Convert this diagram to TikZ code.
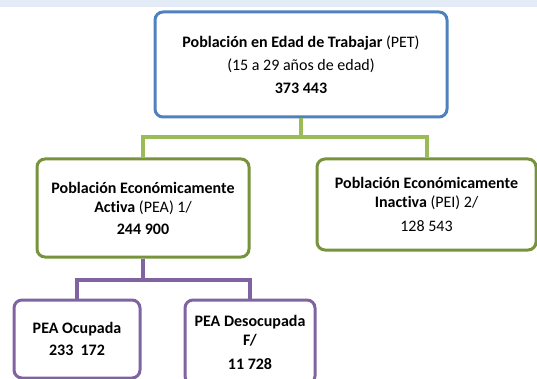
\documentclass[tikz,border=0pt]{standalone}
\usepackage{fontspec}
\setmainfont{Carlito}[RawFeature=-liga]
\definecolor{cblue}{RGB}{79,129,189}
\definecolor{cgreen}{RGB}{119,147,60}
\definecolor{clgreen}{RGB}{155,187,89}
\definecolor{cpurple}{RGB}{128,100,162}
\definecolor{cstrip}{RGB}{226,235,246}
\begin{document}
\begin{tikzpicture}[x=1pt,y=-1pt,
  box/.style={draw,rounded corners=8pt,line width=3pt,fill=white,align=center,inner sep=0pt,font=\fontsize{16}{19}\selectfont},
  bluebox/.style={box,draw=cblue},
  greenbox/.style={box,draw=cgreen},
  purplebox/.style={box,draw=cpurple},
  gline/.style={draw=clgreen,line width=4pt},
  pline/.style={draw=cpurple,line width=4pt}]
\useasboundingbox (0,0) rectangle (537,379);
\fill[cstrip] (0,0) rectangle (537,7);
\coordinate (gy) at (0,137);
\coordinate (py) at (0,280);
\node[bluebox,minimum width=292pt,minimum height=105pt] (pet) at (301,64.5)
  {\textbf{Población en Edad de Trabajar} (PET)\\[4pt](15 a 29 años de edad)\\[4pt]\textbf{373 443}};
\node[greenbox,minimum width=212pt,minimum height=98pt] (pea) at (143,208)
  {\textbf{Población Económicamente}\\\textbf{Activa} (PEA) 1/\\[3pt]\textbf{244 900}};
\node[greenbox,minimum width=219pt,minimum height=91pt] (pei) at (426.5,204.5)
  {\textbf{Población Económicamente}\\\textbf{Inactiva} (PEI) 2/\\[5pt]128 543};
\node[purplebox,minimum width=126pt,minimum height=78pt] (ocu) at (77,339)
  {\textbf{PEA Ocupada}\\[3pt]\textbf{233~~172}};
\node[purplebox,minimum width=130pt,minimum height=84pt] (des) at (250,342)
  {\textbf{PEA Desocupada}\\\textbf{F/}\\[5pt]\textbf{11 728}};
\draw[gline] (pet.south) -- (pet.south |- gy) -| (pea.north);
\draw[gline] (pet.south |- gy) -| (pei.north);
\draw[pline] (pea.south) -- (pea.south |- py) -| (ocu.north);
\draw[pline] (pea.south |- py) -| (des.north);
\end{tikzpicture}
\end{document}
